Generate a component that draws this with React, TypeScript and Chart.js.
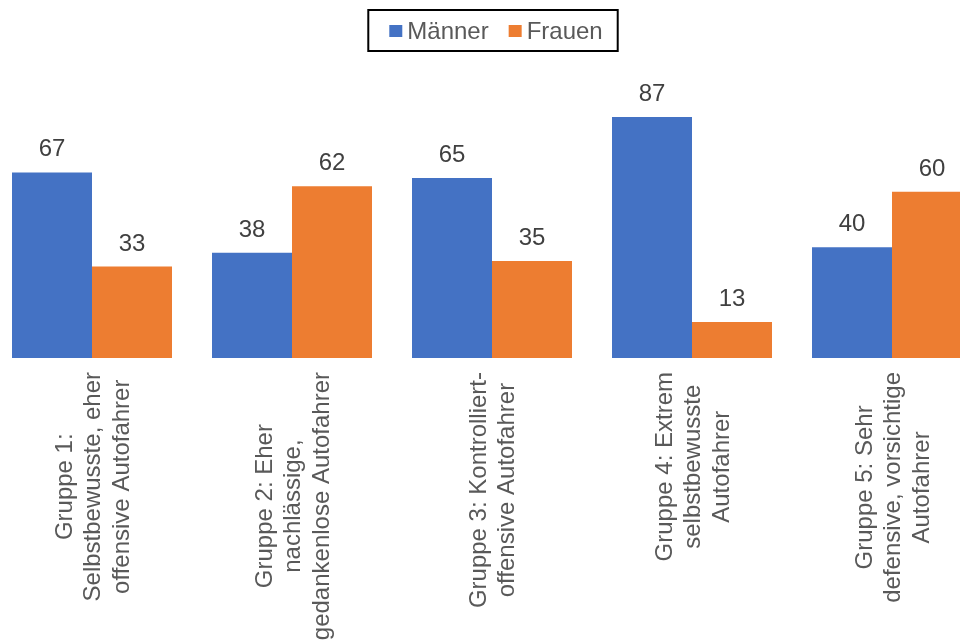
import React, { useEffect, useRef } from "react";
import { Chart, registerables } from "chart.js";

Chart.register(...registerables);

const categories: string[][] = [
  ["Gruppe 1:", "Selbstbewusste, eher", "offensive Autofahrer"],
  ["Gruppe 2: Eher", "nachlässige,", "gedankenlose Autofahrer"],
  ["Gruppe 3: Kontrolliert-", "offensive Autofahrer"],
  ["Gruppe 4: Extrem", "selbstbewusste", "Autofahrer"],
  ["Gruppe 5: Sehr", "defensive, vorsichtige", "Autofahrer"],
];
const seriesNames = ["Männer", "Frauen"];
const maennerValues = [67, 38, 65, 87, 40];
const frauenValues = [33, 62, 35, 13, 60];
const seriesColors = ["#4472C4", "#ED7D31"];
const yMin = 0;
const yMax = 100;

const FONT = '24px "Liberation Sans", Arial, sans-serif';

const valueLabelPlugin = {
  id: "valueLabels",
  afterDatasetsDraw(chart: any) {
    const ctx = chart.ctx;
    ctx.save();
    ctx.font = FONT;
    ctx.fillStyle = "#404040";
    ctx.textAlign = "center";
    ctx.textBaseline = "alphabetic";
    chart.data.datasets.forEach((ds: any, di: number) => {
      const meta = chart.getDatasetMeta(di);
      meta.data.forEach((el: any, i: number) => {
        ctx.fillText(String(ds.data[i]), el.x, el.y - 16);
      });
    });
    ctx.restore();
  },
};

const xLabelPlugin = {
  id: "xLabels",
  afterDraw(chart: any) {
    const ctx = chart.ctx;
    const xScale = chart.scales.x;
    const axisY = chart.chartArea.bottom;
    ctx.save();
    ctx.font = FONT;
    ctx.fillStyle = "#595959";
    ctx.textAlign = "center";
    ctx.textBaseline = "alphabetic";
    const pitch = 28.5;
    categories.forEach((lines, i) => {
      const x = xScale.getPixelForValue(i);
      const maxW = Math.max(...lines.map((l) => ctx.measureText(l).width));
      const cy = axisY + 14 + maxW / 2;
      ctx.save();
      ctx.translate(x, cy);
      ctx.rotate(-Math.PI / 2);
      const n = lines.length;
      lines.forEach((line, li) => {
        const dy = (li - (n - 1) / 2) * pitch + 8;
        ctx.fillText(line, 0, dy);
      });
      ctx.restore();
    });
    ctx.restore();
  },
};

const legendPlugin = {
  id: "boxLegend",
  afterDraw(chart: any) {
    const ctx = chart.ctx;
    ctx.save();
    ctx.font = FONT;
    const box = 13;
    const gap = 5;
    const itemGap = 20;
    const items = chart.data.datasets.map((ds: any) => ({
      text: ds.label,
      color: ds.backgroundColor,
      w: ctx.measureText(ds.label).width,
    }));
    const total =
      items.reduce((s: number, it: any) => s + box + gap + it.w, 0) +
      itemGap * (items.length - 1);
    const padL = 21;
    const padR = 15;
    const frameW = total + padL + padR;
    const frameLeft = chart.width / 2 + 1 - frameW / 2;
    ctx.strokeStyle = "#000000";
    ctx.lineWidth = 2;
    ctx.strokeRect(frameLeft, 10, frameW, 41);
    let x = frameLeft + padL;
    ctx.textAlign = "left";
    ctx.textBaseline = "alphabetic";
    items.forEach((it: any) => {
      ctx.fillStyle = it.color;
      ctx.fillRect(x, 25, box, 12);
      ctx.fillStyle = "#595959";
      ctx.fillText(it.text, x + box + gap, 38.5);
      x += box + gap + it.w + itemGap;
    });
    ctx.restore();
  },
};

export default function App() {
  const canvasRef = useRef<HTMLCanvasElement | null>(null);

  useEffect(() => {
    if (!canvasRef.current) return;
    const chart = new Chart(canvasRef.current, {
      type: "bar",
      data: {
        labels: categories.map((c) => c.join(" ")),
        datasets: [
          {
            label: seriesNames[0],
            data: maennerValues,
            backgroundColor: seriesColors[0],
            borderWidth: 0,
          },
          {
            label: seriesNames[1],
            data: frauenValues,
            backgroundColor: seriesColors[1],
            borderWidth: 0,
          },
        ],
      },
      options: {
        responsive: false,
        animation: false,
        layout: { padding: { top: 81, bottom: 283, left: 0, right: 0 } },
        datasets: {
          bar: { categoryPercentage: 0.8, barPercentage: 1.0 },
        },
        plugins: {
          legend: { display: false },
          tooltip: { enabled: false },
        },
        scales: {
          x: { display: false, offset: true },
          y: { display: false, min: yMin, max: yMax },
        },
      },
      plugins: [valueLabelPlugin, xLabelPlugin, legendPlugin],
    });
    return () => chart.destroy();
  }, []);

  return (
    <div
      style={{
        position: "fixed",
        left: 0,
        top: 0,
        width: 960,
        height: 641,
        overflow: "hidden",
        background: "#ffffff",
      }}
    >
      <div style={{ position: "absolute", left: -8, top: 0, width: 1000, height: 641 }}>
        <canvas ref={canvasRef} width={1000} height={641} style={{ display: "block" }} />
      </div>
    </div>
  );
}
